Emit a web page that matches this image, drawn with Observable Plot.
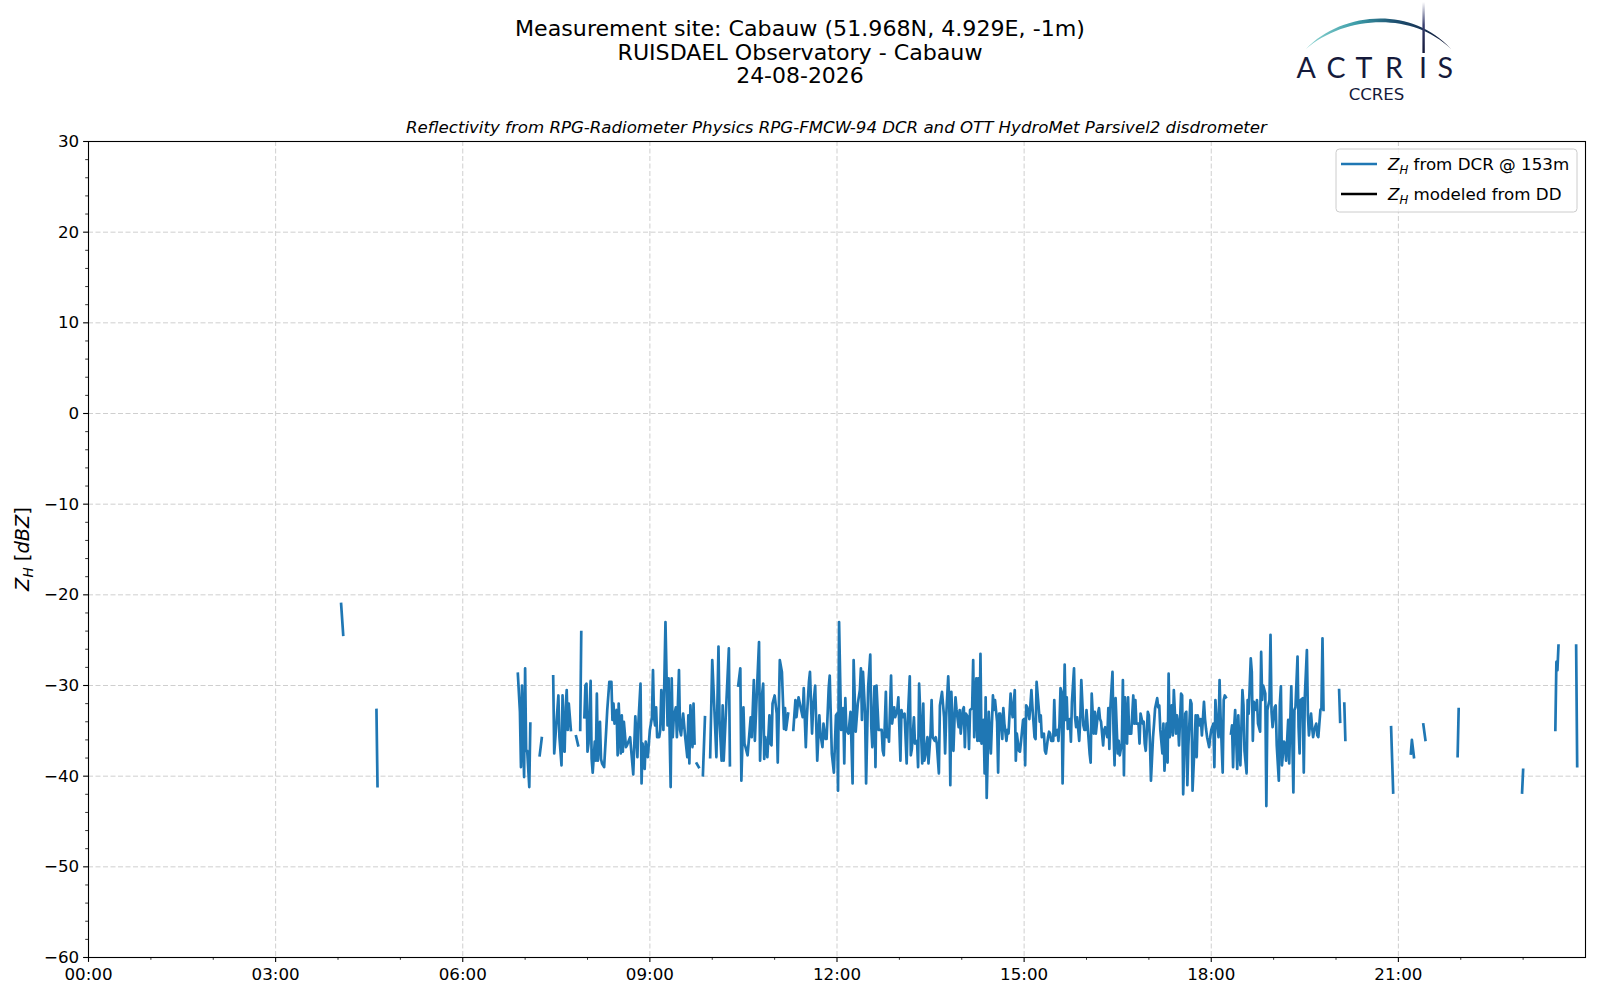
<!DOCTYPE html>
<html><head><meta charset="utf-8">
<script src="https://cdn.jsdelivr.net/npm/d3@7"></script>
<script src="https://cdn.jsdelivr.net/npm/@observablehq/plot@0.6"></script>
<style>
html,body{margin:0;padding:0;background:#fff;}
#wrap{position:relative;width:1600px;height:1000px;font-family:"DejaVu Sans",sans-serif;color:#000;}
#overlay{position:absolute;left:0;top:0;pointer-events:none;}
</style></head>
<body><div id="wrap"></div>
<script>
// ---- Data (minutes after 00:00 UTC, reflectivity in dBZ; null = gap) ----
const dcrEarly = [[243,-21.0],[245,-24.4],[246,null],[277,-32.7],[278,-41.1],[279,null]];
const dcrBlock1 = [
[413,-28.7],[415,-32.9],[416,-39.0],[417,-30.0],[419,-40.1],[420,-28.1],[421,-37.2],[422,-37.2],[424,-41.2],[425,-34.2],[426,null],
[434,-37.7],[436,-35.8],[437,null],
[447,-29.0],[448,-37.5],[452,-31.1],[453,-35.7],[455,-38.8],[456,-31.1],[457,-37.2],[458,-37.3],[459,-32.4],[460,-30.5],[461,-34.9],[462,-32.0],[464,-34.9],[465,null],
[469,-35.6],[471,-36.6],[472,null],
[473,-34.9],[474,-24.1],[475,null],
[477,-33.5],[478,-30.0],[479,-29.8],[480,-37.3],[481,-36.4],[483,-29.5],[484,-38.1],[485,-39.6],[487,-36.2],[488,-38.3],[489,-30.9],[490,-38.3],[492,-34.0],[493,-38.1],[494,-38.6],[496,-39.0],[498,-34.9],[499,-32.7],[501,-29.6],[503,-29.6],[504,-33.8],[505,-32.0],[506,-34.2],[508,-32.7],[509,-37.7],[510,-32.0],[512,-37.5],[513,-33.3],[514,-37.3],[515,-34.0],[517,-36.8],[518,-36.6],[521,-35.7],[524,-39.8],[526,-33.4],[528,-37.9],[529,-34.0],[531,-29.8],[532,-40.8],[533,-36.4],[535,-39.2],[536,-36.2],[538,-37.9],[540,-34.9],[542,-33.5],[543,-28.3],[544,-33.5],[545,-34.4],[546,-32.4],[547,-35.7],[549,-35.7],[550,-34.9],[551,-30.5],[553,-34.9],[555,-23.0],[557,-34.4],[558,-29.2],[560,-41.2],[561,-29.2],[562,-35.7],[563,-33.5],[565,-32.4],[566,-35.7],[568,-28.3],[569,-34.9],[570,-35.5],[571,-34.2],[572,-33.1],[574,-35.7],[576,-37.9],[577,-33.3],[578,-38.6],[579,-32.2],[581,-36.8],[582,-32.0],[583,-36.4],[584,null],
[585,-38.6],[587,-39.0],[588,null],
[591,-39.9],[593,-33.5],[595,null]
];
const dcrBlock2 = [
[598,-37.9],[600,-27.2],[602,-32.5],[604,-37.9],[606,-25.7],[607,-33.8],[609,-38.3],[610,-32.2],[611,-38.3],[616,-25.9],[617,-38.8],[619,null],
[625,-30.0],[627,-28.1],[628,-40.5],[630,-32.4],[631,-36.4],[632,-36.8],[634,-37.7],[637,-33.5],[638,-35.7],[640,-29.4],[641,-36.1],[643,-30.5],[645,-25.2],[646,-38.3],[648,-30.9],[649,-29.8],[650,-38.1],[651,-35.7],[653,-37.9],[655,-33.3],[656,-36.4],[657,-36.6],[658,-32.0],[660,-31.1],[662,-33.1],[663,-38.5],[665,-27.2],[667,-28.5],[669,-34.8],[670,-32.5],[671,-34.9],[673,-33.1],[675,null],
[678,-34.9],[680,-31.6],[681,-33.5],[683,-31.3],[687,-33.5],[688,-30.3],[690,-36.8],[691,-33.5],[693,-29.6],[694,-28.5],[696,-35.3],[697,-32.5],[699,-30.0],[701,-38.3],[703,-33.3],[704,-35.3],[706,-36.8],[707,-34.2],[709,-35.9],[710,-35.9],[712,-30.3],[713,-28.9],[715,-37.5],[717,-39.6],[719,-33.3],[720,-33.1],[721,-41.6],[722,-23.0],[724,-34.9],[726,-32.5],[727,-38.6],[728,-31.4],[729,-34.9],[731,-35.3],[733,-32.9],[735,-40.8],[736,-27.2],[738,-35.1],[740,-32.0],[742,-30.5],[743,-28.1],[744,-33.8],[745,-28.5],[747,-33.1],[748,-40.8],[750,-30.1],[752,-26.6],[753,-34.6],[754,-36.8],[756,-30.1],[757,-39.0],[758,-30.0],[760,-34.9],[763,-34.9],[764,-37.2],[765,-37.7],[767,-30.7],[768,-35.7],[769,-34.9],[770,-36.2],[772,-28.9],[773,-34.2],[775,-32.4],[776,-33.5],[778,-32.7],[779,-31.3],[781,-38.3],[782,-32.7],[783,-33.5],[785,-33.1],[787,-38.6],[788,-34.0],[790,-29.0],[791,-37.7],[792,-37.0],[794,-33.5],[795,-36.4],[797,-36.1],[798,-39.0],[799,-29.8]
];
const dcrBlock3 = [
[802,-38.6],[803,-32.0],[804,-38.3],[805,-37.7],[807,-35.7],[808,-38.6],[810,-35.3],[811,-31.6],[812,-35.7],[814,-36.1],[815,-35.7],[816,-36.4],[818,-39.7],[819,-32.2],[821,-30.7],[823,-33.5],[824,-37.5],[825,-33.5],[827,-29.0],[828,-32.0],[829,-41.0],[830,-30.7],[832,-37.2],[833,-33.8],[834,-31.3],[835,-32.7],[837,-34.6],[838,-32.7],[839,-35.3],[841,-32.7],[842,-32.4],[843,-36.8],[844,-33.1],[846,-33.5],[847,-37.0],[848,-32.7],[850,-32.5],[851,-27.2],[852,-35.7],[854,-29.2],[855,-36.1],[856,-29.2],[857,-36.1],[858,-26.5],[859,-36.4],[861,-33.8],[862,-39.7],[863,-31.3],[864,-42.4],[866,-32.9],[867,-35.3],[868,-37.5],[870,-31.1],[871,-32.7],[872,-31.6],[874,-34.0],[875,-39.6],[876,-33.1],[877,-33.1],[879,-35.9],[880,-32.5],[881,-34.2],[883,-36.1],[884,-34.9],[885,-35.3],[887,-30.9],[888,-32.7],[889,-33.5],[891,-30.5],[892,-38.3],[893,-35.3],[895,-37.2],[896,-37.3],[897,-36.2],[899,-33.8],[900,-33.7],[901,-38.8],[902,-32.2],[903,-32.4],[905,-33.7],[906,-32.2],[907,-30.5],[908,-32.4],[910,-35.7],[911,-35.9],[912,-29.6],[914,-32.4],[915,-34.0],[916,-33.3],[917,-35.7],[919,-35.3],[920,-37.2],[921,-37.5],[923,-35.7],[924,-35.1],[925,-35.3],[926,-36.1],[928,-36.1],[929,-31.6],[930,-35.5],[932,-34.9],[933,-36.1],[934,-34.2],[935,-30.3],[936,-30.7],[937,-40.8],[939,-27.7],[940,-33.8],[941,-31.3],[942,-34.8],[944,-33.7],[945,-36.2],[946,-31.8],[948,-28.1],[949,-33.5],[950,-34.6],[951,-33.5],[953,-36.1],[954,-33.8],[955,-29.4],[957,-34.4],[958,-34.9],[959,-34.9],[960,-32.7],[962,-35.9],[963,-37.5],[964,-38.5],[965,-30.9],[967,-35.3],[968,-32.9],[969,-35.3],[971,-33.1],[972,-32.5],[973,-33.7],[974,-34.0],[976,-36.6],[977,-34.9],[978,-34.6],[980,-35.7],[981,-32.5],[982,-37.0],[983,-32.4],[985,-28.5],[986,-35.1],[987,-38.8],[988,-31.4],[990,-37.5],[991,-36.1],[992,-37.7],[994,-36.4],[995,-29.4],[996,-39.9],[997,-31.3],[999,-36.4],[1000,-31.3],[1001,-35.3]
];
const dcrBlock4 = [
[1003,-35.3],[1005,-31.1],[1006,-34.2],[1007,-31.6],[1008,-34.2],[1010,-34.2],[1011,-36.4],[1012,-33.1],[1014,-34.2],[1015,-34.0],[1016,-36.4],[1017,-37.2],[1019,-32.9],[1020,-33.3],[1021,-36.1],[1022,-40.5],[1024,-35.7],[1025,-34.2],[1026,-32.5],[1028,-31.4],[1029,-32.4],[1030,-32.2],[1031,-34.9],[1033,-37.5],[1034,-34.2],[1035,-39.4],[1037,-34.2],[1038,-38.5],[1039,-28.7],[1040,-35.7],[1042,-32.2],[1043,-35.5],[1044,-30.5],[1046,-35.3],[1047,-33.3],[1048,-34.2],[1049,-36.6],[1051,-30.9],[1052,-31.1],[1053,-42.0],[1055,-33.1],[1056,-32.9],[1057,-41.0],[1058,-36.6],[1060,-31.6],[1061,-32.0],[1062,-41.6],[1064,-36.4],[1065,-33.3],[1066,-37.9],[1067,-33.3],[1069,-34.4],[1070,-33.7],[1071,-35.5],[1073,-31.8],[1074,-33.7],[1075,-34.8],[1076,-35.7],[1078,-36.8],[1079,-35.7],[1080,-34.9],[1082,-34.2],[1083,-39.0],[1084,-31.6],[1085,-33.5],[1087,-35.7],[1088,-29.4],[1089,-33.5],[1091,-39.6],[1092,-31.6],[1093,-31.1],[1094,-31.3],[1096,null],
[1099,-35.3],[1100,-34.4],[1101,-39.0],[1102,-34.6],[1103,-32.7],[1105,-39.2],[1106,-33.3],[1107,-36.6],[1108,-38.8],[1110,-30.5],[1111,-32.2],[1112,-37.2],[1114,-39.7],[1115,-31.6],[1116,-33.1],[1118,-27.0],[1119,-28.5],[1120,-36.1],[1121,-31.8],[1123,-32.7],[1124,-31.6],[1125,-34.2],[1127,-35.1],[1128,-26.3],[1129,-31.6],[1130,-30.0],[1132,-30.9],[1133,-43.3],[1134,-32.7],[1136,-31.6],[1137,-24.4],[1138,-32.9],[1139,-34.6],[1141,-32.4],[1142,-32.2],[1143,-36.6],[1145,-40.5],[1146,-32.0],[1147,-30.1],[1148,-38.8],[1150,-36.2],[1151,-36.4],[1152,-38.3],[1154,-33.8],[1155,-38.6],[1156,-34.0],[1157,-30.1],[1159,-41.8],[1160,-32.7],[1161,-32.4],[1163,-26.8],[1164,-34.6],[1165,-37.5],[1166,-31.6],[1168,-31.4],[1169,-39.6],[1170,-31.3],[1172,-26.1],[1173,-33.3],[1174,-35.5],[1176,-33.1],[1177,-34.6],[1178,-35.7],[1179,-34.9],[1181,-34.2],[1182,-35.5],[1183,-35.7],[1185,-32.7],[1186,-32.5],[1187,-24.8],[1188,-32.7],[1190,null]
];
const dcrLate = [
[1203,-30.5],[1204,-34.0],[1205,null],[1208,-32.0],[1209,-36.0],[1210,null],
[1253,-34.6],[1255,-41.8],[1256,null],
[1272,-37.5],[1273,-36.0],[1275,-37.9],[1276,null],
[1284,-34.3],[1286,-36.0],[1287,null],
[1317,-37.8],[1318,-32.6],[1319,null],
[1379,-41.8],[1380,-39.3],[1381,null],
[1411,-34.9],[1412,-27.4],[1413,-28.3],[1414,-25.6],[1415,null],
[1431,-25.6],[1432,-38.9]
];
const ddModeled = []; // no disdrometer-modeled reflectivity available on this day

const xMajor = [0,180,360,540,720,900,1080,1260];
const xTickLabels = ["00:00","03:00","06:00","09:00","12:00","15:00","18:00","21:00"];
const xMinor = [60,120,240,300,420,480,600,660,780,840,960,1020,1140,1200,1320,1380];
const yMajor = [-60,-50,-40,-30,-20,-10,0,10,20,30];
const yMinor = [-58,-56,-54,-52,-48,-46,-44,-42,-38,-36,-34,-32,-28,-26,-24,-22,-18,-16,-14,-12,-8,-6,-4,-2,2,4,6,8,12,14,16,18,22,24,26,28];

const titleLines = ["Measurement site: Cabauw (51.968N, 4.929E, -1m)", "RUISDAEL Observatory - Cabauw", "24-08-2026"];
const subtitle = "Reflectivity from RPG-Radiometer Physics RPG-FMCW-94 DCR and OTT HydroMet Parsivel2 disdrometer";
const legendLabels = [" from DCR @ 153m", " modeled from DD"];
const seriesColors = ["#1f77b4", "#000000"];

// ---- Build ----
const toRows = a => a.map(([t, v]) => ({t, v}));
const dcr = toRows([...dcrEarly, ...dcrBlock1, ...dcrBlock2, ...dcrBlock3, ...dcrBlock4, ...dcrLate]);
const dd = toRows(ddModeled);
const fmtY = d => d < 0 ? "\u2212" + Math.abs(d) : String(d);
const grid = {stroke: "#cfcfcf", strokeOpacity: 1, strokeWidth: 1, strokeDasharray: "5,2.5"};

const chart = Plot.plot({
  width: 1600, height: 1000,
  marginLeft: 88, marginRight: 15, marginTop: 141, marginBottom: 43,
  style: {fontFamily: '"DejaVu Sans", sans-serif', fontSize: "16.7px", background: "transparent", color: "black"},
  x: {type: "linear", domain: [0, 1440]},
  y: {domain: [-60, 30]},
  marks: [
    Plot.gridX(xMajor, grid),
    Plot.gridY(yMajor, grid),
    Plot.line(dd, {x: "t", y: "v", stroke: seriesColors[1], strokeWidth: 2.7}),
    Plot.line(dcr, {x: "t", y: "v", stroke: seriesColors[0], strokeWidth: 2.7, strokeLinejoin: "round", strokeLinecap: "square"}),
    Plot.frame({stroke: "black", strokeWidth: 1.1}),
    Plot.axisX(xMajor, {anchor: "bottom", tickSize: 4.9, tickPadding: 6.2, fontSize: 16.7, tickFormat: d => xTickLabels[xMajor.indexOf(d)], label: null, strokeWidth: 1.1}),
    Plot.axisX(xMinor, {anchor: "bottom", tickSize: 2.8, tickFormat: () => "", label: null, strokeWidth: 0.8}),
    Plot.axisY(yMajor, {anchor: "left", tickSize: 4.9, tickPadding: 4.4, fontSize: 16.7, tickFormat: fmtY, label: null, strokeWidth: 1.1}),
    Plot.axisY(yMinor, {anchor: "left", tickSize: 2.8, tickFormat: () => "", label: null, strokeWidth: 0.8})
  ]
});
const wrap = document.getElementById("wrap");
wrap.appendChild(chart);

// ---- Header, logo, legend and y label (overlay) ----
const ns = "http://www.w3.org/2000/svg";
const ov = document.createElementNS(ns, "svg");
ov.setAttribute("id", "overlay");
ov.setAttribute("width", 1600);
ov.setAttribute("height", 1000);
ov.setAttribute("font-family", '"DejaVu Sans", sans-serif');
const titleBase = [35.6, 59.5, 83.4];
const titleWidth = [570, 365, 127.6];
let html = `
<defs>
  <linearGradient id="arcG" x1="0" y1="0" x2="1" y2="0">
    <stop offset="0" stop-color="#8fd6d2"/>
    <stop offset="0.35" stop-color="#3c9ca8"/>
    <stop offset="0.62" stop-color="#1d4f70"/>
    <stop offset="1" stop-color="#121737"/>
  </linearGradient>
  <linearGradient id="barG" x1="0" y1="0" x2="0" y2="1">
    <stop offset="0" stop-color="#ffffff"/>
    <stop offset="0.45" stop-color="#3a4070"/>
    <stop offset="1" stop-color="#121737"/>
  </linearGradient>
</defs>`;
titleLines.forEach((s, i) => {
  html += `<text x="800" y="${titleBase[i]}" text-anchor="middle" font-size="20.6" textLength="${titleWidth[i]}" lengthAdjust="spacingAndGlyphs" fill="#000">${s}</text>`;
});
html += `<text x="836.5" y="132.6" text-anchor="middle" font-size="16.63" font-style="italic" fill="#000">${subtitle}</text>`;
// logo
html += `<path d="M1306,49 C1340,13 1410,4 1451,49 C1410,9.5 1342,17.5 1306,49 Z" fill="url(#arcG)"/>`;
html += `<rect x="1422.4" y="2" width="2.4" height="51" fill="url(#barG)"/>`;
const letters = [["A",1296.5],["C",1326.5],["T",1355.5],["R",1385],["I",1419],["S",1437.5]];
letters.forEach(([c, x]) => {
  html += `<text x="${x}" y="77.5" font-family="Lato, 'Noto Sans', sans-serif" font-size="28.6" fill="#151a3b">${c}</text>`;
});
html += `<text x="1376.5" y="99.8" text-anchor="middle" font-family="'DejaVu Sans', sans-serif" font-size="16.6" fill="#151a3b">CCRES</text>`;
// legend
html += `<rect x="1336" y="149" width="241" height="63" rx="3.5" fill="#ffffff" fill-opacity="0.8" stroke="#cccccc" stroke-width="1"/>`;
[164, 194].forEach((y, i) => {
  html += `<line x1="1341" x2="1377" y1="${y}" y2="${y}" stroke="${seriesColors[i]}" stroke-width="2.7"/>`;
  html += `<text x="1388" y="${y + 6}" font-size="16.7" fill="#000"><tspan font-style="italic">Z</tspan><tspan font-style="italic" font-size="11.7" dy="3.6">H</tspan><tspan dy="-3.6">${legendLabels[i]}</tspan></text>`;
});
// y label
html += `<text transform="translate(28.5,549) rotate(-90)" text-anchor="middle" font-size="19.4" fill="#000"><tspan font-style="italic">Z</tspan><tspan font-style="italic" font-size="13.6" dy="4">H</tspan><tspan dy="-4"> [</tspan><tspan font-style="italic">dBZ</tspan><tspan>]</tspan></text>`;
ov.innerHTML = html;
wrap.appendChild(ov);
</script>
</body></html>
